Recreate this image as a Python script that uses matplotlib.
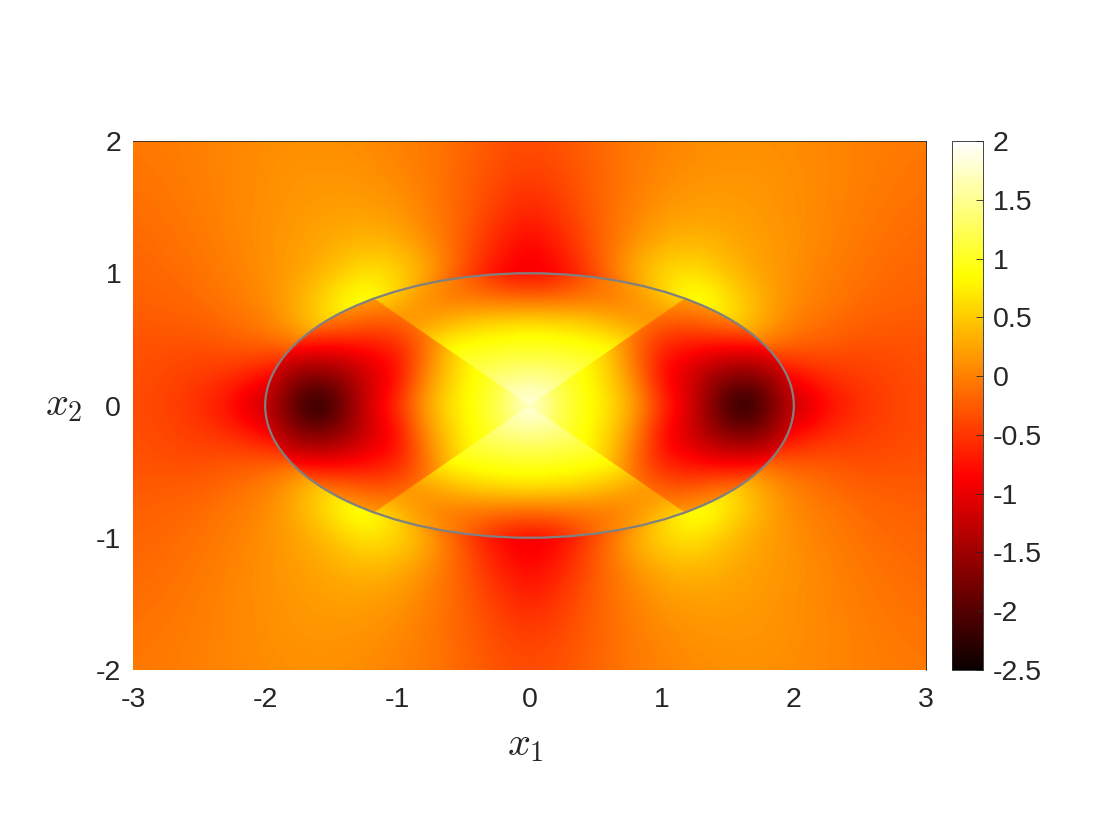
#!/usr/bin/env python3
import numpy as np
import matplotlib
matplotlib.use("Agg")
import matplotlib.pyplot as plt
from matplotlib.patches import Ellipse, Wedge
from matplotlib.transforms import Affine2D

outer_vals = [  # x1 = 0 .. 3 step .25, x2 = 0 .. 2 step .25
    [-1.2, -1.2, -1.2, -1.3, -1.5, -1.7, -1.9, -1.7, -1.4, -.85, -.55, -.42, -.33],
    [-1.0, -1.0, -1.0, -.9, -.8, -.7, -.9, -1.0, -.7, -.5, -.45, -.38, -.32],
    [-.9, -.9, -.8, -.5, -.1, .3, .5, .15, -.1, -.2, -.3, -.3, -.3],
    [-.9, -.9, -.7, -.2, .6, 1.15, .75, .35, .05, -.05, -.15, -.2, -.22],
    [-1.0, -.8, -.3, .3, .62, .68, .42, .22, .1, 0, -.1, -.15, -.18],
    [-.85, -.6, -.25, .05, .3, .36, .28, .2, .12, .03, -.05, -.12, -.15],
    [-.62, -.45, -.2, -.02, .14, .2, .2, .16, .1, .05, -.02, -.08, -.12],
    [-.45, -.35, -.2, -.05, .06, .12, .14, .14, .1, .05, 0, -.05, -.08],
    [-.35, -.3, -.17, -.05, .02, .08, .1, .1, .08, .05, 0, -.03, -.05],
]
side_vals = [  # x1 = 0 .. 2.2 step .2, x2 = 0 .. 1 step .2
    [2.0, 1.3, .95, .7, .2, -.5, -1.05, -1.75, -2.5, -1.9, -1.3, -1.1],
    [1.6, 1.15, .9, .55, .05, -.8, -1.15, -1.6, -1.75, -1.65, -1.0, -.9],
    [1.1, .9, .9, .5, -.15, -.7, -.85, -1.0, -1.1, -1.0, -.9, -.8],
    [.6, .6, .5, .3, -.1, -.3, -.35, -.2, -.1, 0, 0, 0],
    [.4, .4, .3, .25, .2, .1, .2, .3, .3, .3, .3, .3],
    [.4, .4, .4, .4, .4, .4, .4, .4, .4, .4, .4, .4],
]
top_vals = [  # x1 = 0 .. 1.2 step .2, x2 = 0 .. 1.2 step .2
    [2.0, 1.7, 1.4, 1.1, .8, .5, .3],
    [1.55, 1.45, 1.25, 1.05, .8, .5, .3],
    [1.05, 1.05, 1.0, .95, .7, .4, .2],
    [.75, .7, .62, .45, .2, 0, -.05],
    [-.12, -.12, -.08, -.08, .08, .4, .7],
    [-.85, -.7, -.35, .05, .3, .6, .85],
    [-.85, -.7, -.35, .05, .3, .6, .85],
]
x_ticks = [-3, -2, -1, 0, 1, 2, 3]
y_ticks = [-2, -1, 0, 1, 2]
c_ticks = [-2.5, -2, -1.5, -1, -.5, 0, .5, 1, 1.5, 2]
c_labels = ["-2.5", "-2", "-1.5", "-1", "-0.5", "0", "0.5", "1", "1.5", "2"]
semi_axes = (2, 1)
wedge_angle = 54  # where the kink lines hit the ellipse, in unit circle degrees


def mirror(quad):
    quad = np.array(quad, dtype=float)
    half = np.hstack([quad[:, :0:-1], quad])
    return np.vstack([half[:0:-1], half])


def show_field(ax, quad, step):
    field = mirror(quad)
    ny, nx = field.shape
    w = (nx - 1) / 2 * step + step / 2
    h = (ny - 1) / 2 * step + step / 2
    return ax.imshow(field, origin="lower", extent=[-w, w, -h, h], cmap="hot",
                     vmin=-2.5, vmax=2, interpolation="bicubic", aspect="auto")


plt.rcParams["font.family"] = ["Liberation Sans", "DejaVu Sans"]
plt.rcParams["mathtext.fontset"] = "cm"
plt.rcParams["axes.unicode_minus"] = False
text_col = "#262626"

fig = plt.figure(figsize=(11.2, 8.4), dpi=100)
ax = fig.add_axes([133 / 1120, 1 - 670 / 840, 793 / 1120, 529 / 840])

im = show_field(ax, outer_vals, .25)

# inside of the ellipse has its own field, top and bottom wedges sit on top
inner = show_field(ax, side_vals, .2)
inner.set_clip_path(Ellipse((0, 0), 2 * semi_axes[0], 2 * semi_axes[1], transform=ax.transData))
stretch = Affine2D().scale(*semi_axes) + ax.transData
for a, b in [(wedge_angle, 180 - wedge_angle), (180 + wedge_angle, 360 - wedge_angle)]:
    part = show_field(ax, top_vals, .2)
    part.set_clip_path(Wedge((0, 0), 1, a, b, transform=stretch))

ax.add_patch(Ellipse((0, 0), 2 * semi_axes[0], 2 * semi_axes[1], fill=False,
                     edgecolor="#808080", linewidth=1.6))

ax.set_xlim(-3, 3)
ax.set_ylim(-2, 2)
ax.set_xticks(x_ticks)
ax.set_yticks(y_ticks)
# the image hides the ticks and the left and bottom lines in the original
ax.tick_params(length=0, labelcolor=text_col, labelsize=20.5)
ax.tick_params(axis="x", pad=12.5)
ax.tick_params(axis="y", pad=8.5)
ax.spines["left"].set_visible(False)
ax.spines["bottom"].set_visible(False)
for side in ["top", "right"]:
    ax.spines[side].set_linewidth(.6)
    ax.spines[side].set_color(text_col)
ax.set_xlabel("$x_1$", fontsize=29, color=text_col)
ax.xaxis.set_label_coords(.495, -.105)
ax.set_ylabel("$x_2$", fontsize=29, color=text_col, rotation=0, ha="center", va="center")
ax.yaxis.set_label_coords(-.087, .5)

cax = fig.add_axes([952 / 1120, 1 - 670 / 840, 31 / 1120, 529 / 840])
cb = fig.colorbar(im, cax=cax)
cb.set_ticks(c_ticks)
cb.set_ticklabels(c_labels)
cb.ax.tick_params(direction="in", length=5, width=.6, color=text_col, labelcolor=text_col,
                  labelsize=20.5, pad=7)
cb.outline.set_linewidth(.6)
cb.outline.set_edgecolor(text_col)

fig.savefig("out.png", dpi=100)
